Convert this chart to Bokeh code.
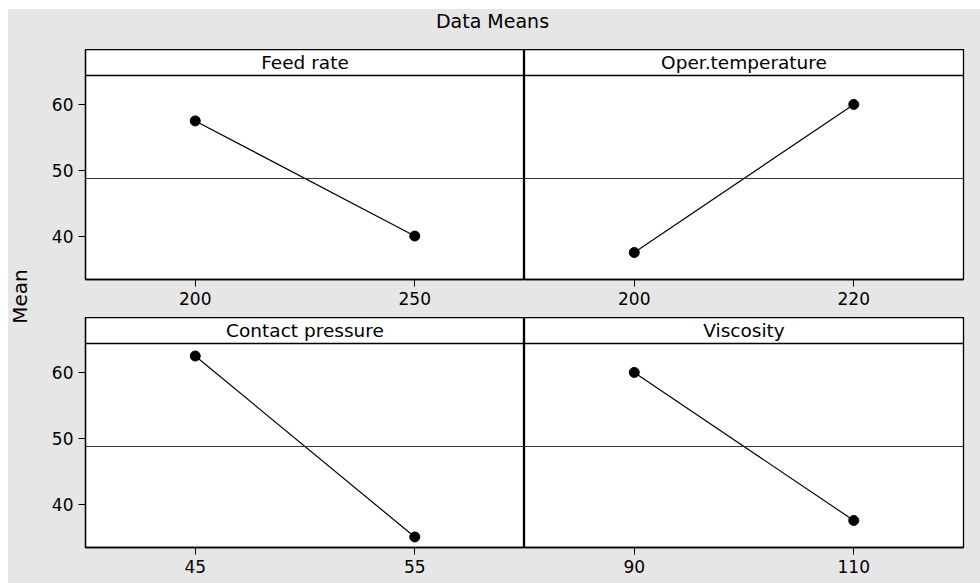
import math
from bokeh.plotting import figure
from bokeh.models import Range1d, FixedTicker, Span, Label, Spacer
from bokeh.layouts import column, row
from bokeh.embed import file_html
from bokeh.resources import INLINE

# ---- data ----
factors = ["Feed rate", "Oper.temperature", "Contact pressure", "Viscosity"]
levels = [[200, 250], [200, 220], [45, 55], [90, 110]]
means = [[57.5, 40.0], [37.5, 60.0], [62.5, 35.0], [60.0, 37.5]]
grand_mean = 48.75
y_ticks = [40, 50, 60]
title_text = "Data Means"
y_label = "Mean"

# ---- style / layout ----
GRAY = "#e6e6e6"
FONT = "DejaVu Sans"
MARGIN_L, MARGIN_T = 8, 9
TOTAL_W = 972
TITLE_H = 40
LABEL_W = 40
FRAME_W = 439
FRAME_H = 230
HEADER_PX = 26
MB_TOP_ROW = 38
MB_BOTTOM_ROW = 36
Y_LO, Y_HI = 33.4, 64.4
Y_TOP = Y_HI + (Y_HI - Y_LO) * HEADER_PX / (FRAME_H - HEADER_PX)


def panel(i, left_col, top_row):
    lo, hi = levels[i]
    d = hi - lo
    mbl = 37 if left_col else 0
    mbr = 0 if left_col else TOTAL_W - LABEL_W - 37 - 2 * FRAME_W
    mbb = MB_TOP_ROW if top_row else MB_BOTTOM_ROW
    p = figure(width=mbl + FRAME_W + mbr, height=FRAME_H + mbb,
               x_range=Range1d(lo - d / 2, hi + d / 2),
               y_range=Range1d(Y_LO, Y_TOP),
               output_backend="svg", toolbar_location=None,
               y_axis_location="left" if left_col else None)
    p.min_border_left = mbl
    p.min_border_right = mbr
    p.min_border_top = 0
    p.min_border_bottom = mbb
    p.xgrid.visible = False
    p.ygrid.visible = False
    p.background_fill_color = "white"
    p.border_fill_color = GRAY
    p.outline_line_color = "black"
    p.outline_line_width = 1.3

    p.xaxis.ticker = FixedTicker(ticks=levels[i])
    axes = [p.xaxis[0]] + ([p.yaxis[0]] if left_col else [])
    if left_col:
        p.yaxis.ticker = FixedTicker(ticks=y_ticks)
    for ax in axes:
        ax.axis_line_color = "black"
        ax.axis_line_width = 1.3
        ax.major_tick_in = 0
        ax.major_tick_out = 7
        ax.major_tick_line_color = "black"
        ax.major_tick_line_width = 1
        ax.minor_tick_line_color = None
        ax.major_label_text_font = FONT
        ax.major_label_text_font_size = "17px"
        ax.major_label_text_color = "black"
        ax.major_label_standoff = 5

    p.add_layout(Span(location=grand_mean, dimension="width",
                      line_color="#333333", line_width=1))
    p.add_layout(Span(location=Y_HI, dimension="width",
                      line_color="black", line_width=1.3))
    p.line(levels[i], means[i], line_color="black", line_width=1.2)
    p.scatter(levels[i], means[i], size=10, color="black")
    p.add_layout(Label(x=(lo + hi) / 2, y=(Y_HI + Y_TOP) / 2, text=factors[i],
                       text_align="center", text_baseline="middle",
                       text_font=FONT, text_font_size="18.5px",
                       text_color="black"))
    return p


def blank(w, h):
    p = figure(width=w, height=h, x_range=Range1d(0, w), y_range=Range1d(0, h),
               output_backend="svg", toolbar_location=None,
               x_axis_location=None, y_axis_location=None)
    p.min_border = 0
    p.xgrid.visible = False
    p.ygrid.visible = False
    p.outline_line_color = None
    p.background_fill_color = GRAY
    p.border_fill_color = GRAY
    return p


title_fig = blank(TOTAL_W, TITLE_H)
title_fig.add_layout(Label(x=TOTAL_W / 2 - 2, y=TITLE_H - 11, text=title_text,
                           text_align="center", text_baseline="middle",
                           text_font=FONT, text_font_size="19px",
                           text_color="black"))

grid_h = 2 * FRAME_H + MB_TOP_ROW + MB_BOTTOM_ROW
label_fig = blank(LABEL_W, grid_h)
label_fig.add_layout(Label(x=11, y=grid_h - 247, text=y_label, angle=math.pi / 2,
                           text_align="center", text_baseline="middle",
                           text_font=FONT, text_font_size="20px",
                           text_color="black"))

tl = panel(0, True, True)
tr = panel(1, False, True)
bl = panel(2, True, False)
br = panel(3, False, False)

bg = {"background-color": GRAY}
content = column(
    title_fig,
    row(label_fig,
        column(row(tl, tr, styles=bg), row(bl, br, styles=bg), styles=bg),
        styles=bg),
    styles=bg,
)
layout = row(Spacer(width=MARGIN_L, height=MARGIN_T + TITLE_H + grid_h),
             column(Spacer(width=TOTAL_W, height=MARGIN_T), content))

open("out.html", "w").write(file_html(layout, INLINE))
